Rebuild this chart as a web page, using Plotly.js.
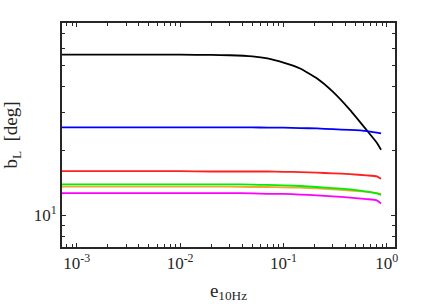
<!DOCTYPE html>
<html><head><meta charset="utf-8">
<script src="https://cdn.plot.ly/plotly-3.0.1.min.js"></script>
<style>html,body{margin:0;padding:0;background:#fff}#chart{width:436px;height:308px}</style>
</head><body><div id="chart"></div>
<script>
const e10Hz = [0.00072, 0.001, 0.002, 0.005, 0.01, 0.02, 0.03, 0.05, 0.07, 0.1, 0.145, 0.21, 0.3, 0.44, 0.64, 0.8, 0.88];
const bBlack = [56.0, 56.0, 56.0, 56.0, 56.0, 55.9, 55.7, 55.0, 53.8, 51.4, 48.3, 43.5, 37.7, 31.0, 24.9, 21.8, 20.2];
const bBlue = [25.7, 25.7, 25.7, 25.7, 25.7, 25.7, 25.7, 25.7, 25.6, 25.6, 25.5, 25.4, 25.2, 25.0, 24.7, 24.3, 24.1];
const bRed = [16.05, 16.05, 16.05, 16.05, 16.05, 16.0, 16.0, 16.0, 16.0, 15.95, 15.9, 15.8, 15.7, 15.55, 15.35, 15.2, 14.8];
const bOrange = [13.6, 13.6, 13.6, 13.6, 13.6, 13.6, 13.6, 13.55, 13.55, 13.5, 13.45, 13.35, 13.2, 13.05, 12.85, 12.7, 12.6];
const bGreen = [13.95, 13.95, 13.95, 13.95, 13.95, 13.95, 13.95, 13.9, 13.85, 13.8, 13.7, 13.55, 13.4, 13.2, 12.9, 12.65, 12.45];
const bMagenta = [12.7, 12.7, 12.7, 12.7, 12.7, 12.7, 12.7, 12.65, 12.6, 12.6, 12.5, 12.4, 12.25, 12.1, 11.9, 11.75, 11.35];

const xMajor = [0.001, 0.01, 0.1, 1];
const xMajorText = ['10<sup>-3</sup>', '10<sup>-2</sup>', '10<sup>-1</sup>', '10<sup>0</sup>'];
const xMinor = [0.0008,0.0009,0.002,0.003,0.004,0.005,0.006,0.007,0.008,0.009,0.02,0.03,0.04,0.05,0.06,0.07,0.08,0.09,0.2,0.3,0.4,0.5,0.6,0.7,0.8,0.9];
const yMajor = [10];
const yMajorText = ['10<sup>1</sup>'];
const yMinor = [8, 9, 20, 30, 40, 50, 60, 70];

const series = [
  {y: bBlack, c: '#000000'},
  {y: bBlue, c: '#0000ff'},
  {y: bRed, c: '#ff2020'},
  {y: bOrange, c: '#f0a830'},
  {y: bGreen, c: '#00ee00'},
  {y: bMagenta, c: '#ff00ff'}
];
const traces = series.map(s => ({x: e10Hz, y: s.y, type: 'scatter', mode: 'lines', line: {color: s.c, width: 1.8, shape: 'spline', smoothing: 0.4}, showlegend: false}));

const fam = 'Liberation Serif';
function axisBase() {
  return {
    type: 'log', showgrid: false, zeroline: false, showline: true, linecolor: '#262626', linewidth: 1.6,
    mirror: 'ticks', ticks: 'inside', ticklen: 4, tickwidth: 1, tickcolor: '#262626',
    tickfont: {family: fam, size: 17, color: '#262626'}, tickmode: 'array'
  };
}
const layout = {
  width: 436, height: 308,
  margin: {l: 62, r: 41, t: 23, b: 61},
  paper_bgcolor: '#fff', plot_bgcolor: '#fff',
  font: {family: fam, size: 17, color: '#262626'},
  xaxis: Object.assign(axisBase(), {
    range: [Math.log10(0.00072), Math.log10(1.2)],
    tickvals: xMajor, ticktext: xMajorText,
    minor: {tickmode: 'array', tickvals: xMinor, ticks: 'inside', ticklen: 3, tickwidth: 1, tickcolor: '#262626', showgrid: false},
    title: {text: 'e<sub>10Hz</sub>', font: {family: fam, size: 19, color: '#262626'}, standoff: 11}
  }),
  yaxis: Object.assign(axisBase(), {
    range: [Math.log10(7.12), Math.log10(78.7)],
    tickvals: yMajor, ticktext: yMajorText,
    minor: {tickmode: 'array', tickvals: yMinor, ticks: 'inside', ticklen: 3, tickwidth: 1, tickcolor: '#262626', showgrid: false},
    title: {text: 'b<sub>L</sub>  [deg]', font: {family: fam, size: 19, color: '#262626'}, standoff: 12}
  })
};
Plotly.newPlot('chart', traces, layout, {displayModeBar: false});
</script></body></html>
